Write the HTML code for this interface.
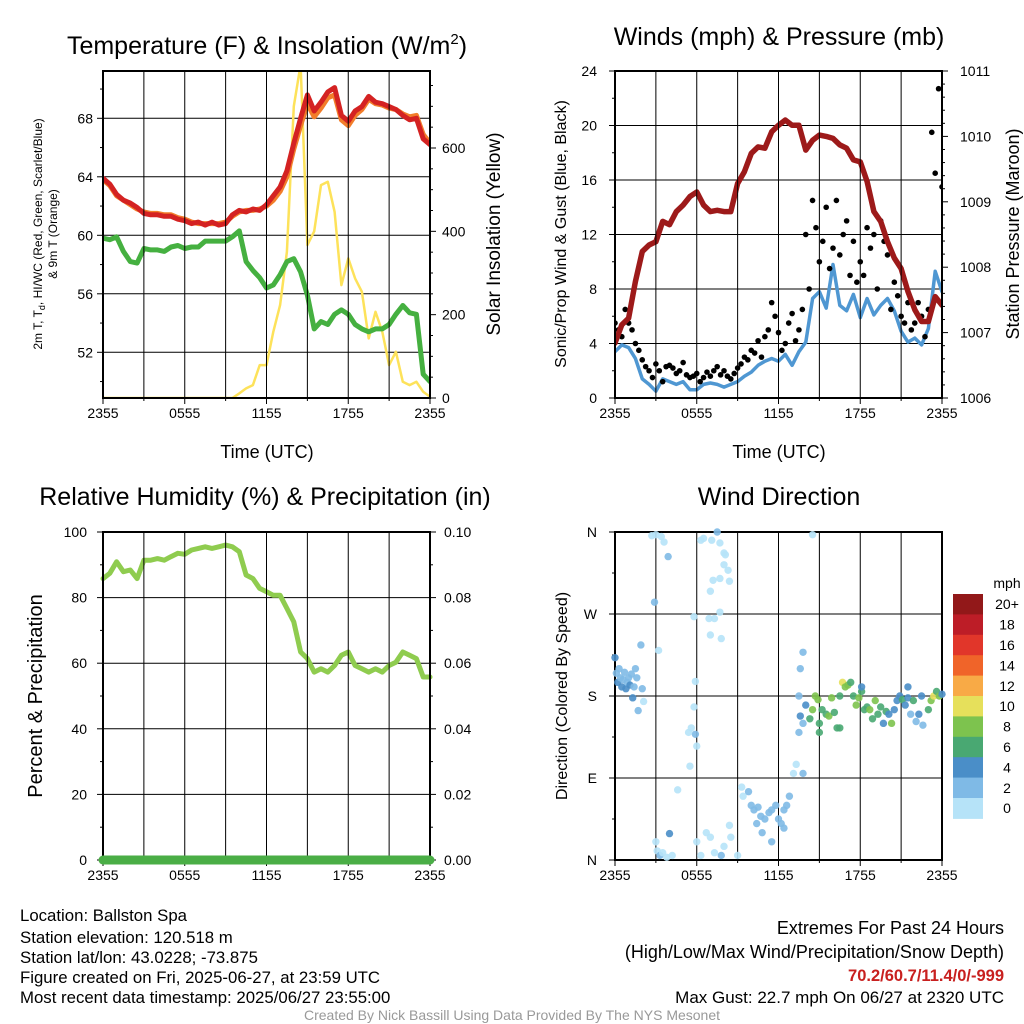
<!DOCTYPE html>
<html><head><meta charset="utf-8">
<style>
html,body{margin:0;padding:0;background:#fff;}
svg{display:block;font-family:"Liberation Sans",sans-serif;}
</style></head>
<body>
<svg id="fig" width="1024" height="1024" viewBox="0 0 1024 1024" xmlns="http://www.w3.org/2000/svg">
<rect width="1024" height="1024" fill="#fff"/>
<g id="g1"></g>
<g id="g2"></g>
<g id="g3"></g>
<g id="g4"></g>
<g id="ginfo">
<text x="20" y="921" font-size="16.8">Location: Ballston Spa</text>
<text x="20" y="943" font-size="16.8">Station elevation: 120.518 m</text>
<text x="20" y="963" font-size="16.8">Station lat/lon: 43.0228; -73.875</text>
<text x="20" y="983" font-size="16.8">Figure created on Fri, 2025-06-27, at 23:59 UTC</text>
<text x="20" y="1003" font-size="16.8">Most recent data timestamp: 2025/06/27 23:55:00</text>
<text x="1004" y="934" font-size="18" text-anchor="end">Extremes For Past 24 Hours</text>
<text x="1004" y="958" font-size="18" text-anchor="end">(High/Low/Max Wind/Precipitation/Snow Depth)</text>
<text x="1004" y="981" font-size="16.5" font-weight="bold" fill="#c8201f" text-anchor="end">70.2/60.7/11.4/0/-999</text>
<text x="1004" y="1003" font-size="17" text-anchor="end">Max Gust: 22.7 mph On 06/27 at 2320 UTC</text>
<text x="512" y="1020" font-size="14" fill="#999" text-anchor="middle">Created By Nick Bassill Using Data Provided By The NYS Mesonet</text>
</g>
</svg>
<script>
// ---------- data ----------
const xTickLabels = ["2355","0555","1155","1755","2355"];
// half-hourly values, hours 0..24
const temp2m = [63.9,63.5,62.8,62.4,62.2,61.9,61.5,61.4,61.4,61.3,61.3,61.1,61.0,60.8,60.9,60.7,60.9,60.7,60.8,61.4,61.7,61.6,61.8,61.7,62.1,62.7,63.3,64.4,66.3,68.0,69.6,68.5,69.1,69.8,70.1,68.2,67.8,68.5,68.8,69.5,69.1,69.0,68.8,68.6,68.2,67.9,68.0,66.6,66.2];
const temp9m = [63.8,63.4,62.7,62.4,62.1,61.8,61.6,61.5,61.5,61.4,61.4,61.2,61.1,60.9,60.8,60.8,60.8,60.8,60.9,61.3,61.6,61.7,61.7,61.8,62.0,62.4,63.0,64.0,65.9,67.5,69.0,68.1,68.7,69.4,69.6,67.9,67.5,68.2,68.6,69.3,69.0,68.9,68.7,68.6,68.3,68.1,68.2,66.9,66.3];
const dewpt = [59.8,59.7,59.9,58.9,58.2,58.1,59.1,59.0,59.0,58.9,59.2,59.3,59.1,59.2,59.2,59.6,59.6,59.6,59.6,59.9,60.3,58.2,57.6,57.1,56.4,56.6,57.3,58.2,58.4,57.5,55.9,53.6,54.1,53.9,54.6,54.9,54.6,53.9,53.6,53.4,53.6,53.6,53.9,54.6,55.2,54.7,54.6,50.5,50.0];
const solar = [0,0,0,0,0,0,0,0,0,0,0,0,0,0,0,0,0,0,0,0,11,23,31,79,79,159,223,351,700,800,367,400,511,519,447,271,335,287,255,143,207,159,79,111,39,31,39,15,3];
const tempTicks = [52,56,60,64,68];
const solarTicks = [0,200,400,600];

const sonicWind = [3.4,3.9,3.7,2.9,1.4,1.0,0.5,1.4,1.2,1.0,1.2,0.6,0.6,1.0,1.1,1.0,0.8,1.0,1.2,1.6,1.9,2.4,2.7,2.9,2.7,3.2,2.4,3.4,4.1,7.3,7.8,6.6,9.8,6.8,6.4,7.6,5.9,7.3,6.1,6.8,7.3,6.4,4.9,4.1,4.4,3.9,5.1,9.3,7.8];
const pressure = [1006.84,1007.12,1007.22,1007.78,1008.24,1008.34,1008.39,1008.70,1008.65,1008.85,1008.95,1009.08,1009.15,1008.95,1008.85,1008.87,1008.85,1008.85,1009.28,1009.46,1009.74,1009.84,1009.82,1010.07,1010.17,1010.25,1010.17,1010.17,1009.79,1009.94,1010.02,1010.00,1009.97,1009.87,1009.82,1009.64,1009.61,1009.31,1008.85,1008.70,1008.39,1008.14,1007.98,1007.63,1007.35,1007.17,1007.17,1007.55,1007.42];
// quarter-hourly gusts, hours 0..24
const gusts = [5.5,5.0,4.5,6.5,5.5,5.0,4.0,3.5, 2.8,2.3,2.0,1.5,2.5,2.0,1.2,2.3, 2.4,2.2,1.8,2.0,2.6,1.7,1.5,1.6, 1.8,1.2,1.5,1.9,1.6,2.0,2.3,1.7, 2.0,1.6,1.4,1.8,2.2,2.5,3.0,2.8, 3.5,3.3,4.2,3.0,4.5,5.0,7.0,6.0, 4.8,3.5,4.0,5.5,6.2,4.2,5.0,6.5, 12.0,8.0,14.5,12.5,10.0,11.5,14.0,9.5, 11.0,14.5,10.5,12.0,13.0,9.0,11.5,8.5, 10.0,9.0,12.5,11.0,12.0,8.0,13.0,11.5, 10.5,6.5,8.5,7.5,6.0,5.5,7.0,5.0, 5.5,7.0,6.0,4.5,6.5,19.5,16.5,22.7,15.5];
const windTicks = [0,4,8,12,16,20,24];
const presTicks = [1006,1007,1008,1009,1010,1011];

const rh = [85.8,87.4,90.9,87.9,88.4,85.8,91.4,91.4,91.9,91.4,92.5,93.5,93.2,94.5,95.0,95.5,95.0,95.5,96.0,95.5,94.0,86.9,85.8,82.8,81.8,80.7,80.7,76.7,72.6,63.4,61.4,57.3,58.3,57.3,59.3,62.4,63.4,59.3,58.3,57.3,58.3,57.3,59.3,60.3,63.4,62.4,61.4,55.8,55.8];
const precip = [0,0,0,0,0,0,0,0,0,0,0,0,0,0,0,0,0,0,0,0,0,0,0,0,0,0,0,0,0,0,0,0,0,0,0,0,0,0,0,0,0,0,0,0,0,0,0,0,0];
const rhTicks = [0,20,40,60,80,100];
const precipTicks = ["0.00","0.02","0.04","0.06","0.08","0.10"];

const dirTimes = [0.0,0.1,0.2,0.3,0.4,0.5,0.6,0.7,0.8,0.9,1.0,1.1,1.2,1.3,1.4,1.5,1.6,1.7,1.9,2.0,2.1, 2.7,2.9,3.0,3.4,3.6,3.9,3.2, 3.0,3.1,3.3,3.5,3.8,4.0,4.2,4.6, 5.8,5.6,5.9,5.4,6.0,5.5,5.9,5.8, 6.3,6.5,7.1,7.5,7.7,8.0,8.1,8.0,7.2,7.0,7.7,8.4,8.3, 6.9,7.3,7.7,7.8,7.0, 6.0,6.3,6.7,7.0,7.3,7.8,8.0,8.5,9.0,8.4, 9.3,9.4,9.8,10.0,10.2,10.5,10.7,11.0,11.3,11.5,11.8,12.0,12.2,12.4,12.6,12.8,10.8,11.5,12.4,10.4, 13.1,13.3,13.8,13.5,13.8,13.5,13.6,13.8,14.5, 13.6,14.0,14.3,14.5,14.7,14.9,15.0,15.2,15.5,15.7,15.9,16.1,16.3,16.5,16.7,16.9,17.1,17.3,17.5,17.7,17.9,18.1,18.3,18.5,18.7,18.9,19.1,19.3,19.5,19.7,19.9,20.1,20.3,20.5,20.7,20.9,21.1,21.3,21.5,21.7,21.9,22.1,22.3,22.6,23.0,23.2,23.4,23.6,23.8,24.0,22.5,21.5,18.1,16.5,15.0];
const dirValues = [222,205,195,210,200,190,198,206,188,195,200,192,204,178,190,210,200,164,236,188,174, 356,283,357,355,349,333,230, 20,10,5,8,3,29,5,77, 168,145,138,140,125,103,196,267, 351,353,351,360,348,337,335,324,307,295,309,306,318, 265,265,272,243,247, 20,5,30,25,8,5,15,25,5,38, 80,70,75,60,55,58,48,45,52,55,60,45,40,55,60,70,30,20,35,40, 95,105,95,140,150,180,210,228,357, 158,170,155,165,180,176,150,165,160,158,178,162,145,180,195,190,192,195,180,170,178,185,165,168,165,155,175,160,168,150,163,160,150,165,175,180,176,170,178,160,175,152,160,148,165,175,180,185,180,182,180,190,190,145,140];
const dirSpeeds = [4,3,4,2,3,4,3,3,4,2,3,4,3,4,3,2,3,2,2,2,1, 1,3,0,1,0,3,1, 1,0,2,1,0,4,1,0, 0,0,2,0,0,0,0,0, 0,0,0,2,0,0,0,0,0,0,0,0,0, 0,0,0,0,0, 0,0,0,0,0,3,0,0,0,0, 0,0,3,2,3,2,3,2,3,2,3,2,3,3,2,3,3,3,2,2, 0,0,2,3,3,2,2,2,0, 5,4,6,8,8,8,6,7,6,8,8,7,6,7,10,8,9,6,6,8,8,7,6,7,8,6,8,6,7,4,6,5,8,4,4,4,6,4,4,3,6,3,4,3,6,8,10,6,8,5,4,4,4,7,6];
const speedBins = ["0","2","4","6","8","10","12","14","16","18","20+"];
const speedColors = ["#b6e3f8","#7fbae6","#4a8ec8","#49a872","#7dc34e","#e6e05b","#f8aa46","#f06429","#e1362a","#bd1d27","#921819"];
const dirTicks = ["N","E","S","W","N"];

// ---------- helpers ----------
const NS="http://www.w3.org/2000/svg";
function mk(parent,tag,attrs){const e=document.createElementNS(NS,tag);for(const k in attrs)e.setAttribute(k,attrs[k]);parent.appendChild(e);return e;}
function txt(parent,x,y,s,size,anchor,rot){const e=mk(parent,"text",{x:x,y:y,"font-size":size,"text-anchor":anchor||"middle"});if(rot)e.setAttribute("transform","rotate("+rot+" "+x+" "+y+")");e.textContent=s;return e;}
function lin(parent,x1,y1,x2,y2,c,w){return mk(parent,"line",{x1:x1,y1:y1,x2:x2,y2:y2,stroke:c,"stroke-width":w});}
function scale(d0,d1,r0,r1){return v=>r0+(v-d0)/(d1-d0)*(r1-r0);}

function frame(g,L,R,T,B,name){
  for(let i=0;i<=8;i++){const x=L+(R-L)*i/8;const e=lin(g,x,T,x,B,"#000",1);
    
    
    if(i%2===0){const t=lin(g,x,B,x,B+6,"#000",1);}
    else{lin(g,x,B,x,B+3,"#000",1);}
  }
  xTickLabels.forEach((s,i)=>{const t=txt(g,L+(R-L)*i/4,B+20,s,14);
    
    });
  const r=mk(g,"rect",{x:L,y:T,width:R-L,height:B-T,fill:"none",stroke:"#000","stroke-width":2});
  
  
}
function hgrid(g,L,R,y){const e=lin(g,L,y,R,y,"#000",1);}
function ytickL(g,L,y,major){lin(g,L-(major?6:3),y,L,y,"#000",1);}
function ytickR(g,R,y,major){lin(g,R,y,R+(major?6:3),y,"#000",1);}
function poly(g,xs,ys,color,w,name){
  const pts=xs.map((x,i)=>x.toFixed(1)+","+ys[i].toFixed(1)).join(" ");
  const p=mk(g,"polyline",{points:pts,fill:"none",stroke:color,"stroke-width":w,"stroke-linejoin":"round","stroke-linecap":"round"});
  
  
  return p;
}
const halfHours = temp2m.map((_,i)=>i*0.5);

// ---------- Panel 1 ----------
(function(){
  const g=document.getElementById("g1");const L=103,R=430,T=71,B=398;
  const xs=scale(0,24,L,R), yT=scale(68,52,118.3,352.3), yS=scale(0,600,B,148);
  const clip=mk(g,"clipPath",{id:"c1"});mk(clip,"rect",{x:L,y:T,width:R-L,height:B-T});
  tempTicks.forEach(v=>{hgrid(g,L,R,yT(v));});
  for(let v=50;v<=70;v+=2){ytickL(g,L,yT(v),v%4===0);}
  tempTicks.forEach(v=>{const t=txt(g,L-10,yT(v)+5,String(v),14,"end");});
  for(let v=0;v<=750;v+=50){ytickR(g,R,yS(v),v%200===0);}
  solarTicks.forEach(v=>{const t=txt(g,R+12,yS(v)+5,String(v),14,"start");});
  const d=mk(g,"g",{"clip-path":"url(#c1)"});
  poly(d,halfHours.map(xs),solar.map(yS),"#fde25a",2.5,"solar-line");
  poly(d,halfHours.map(xs),dewpt.map(yT),"#45b040",5,"dewpoint-line");
  poly(d,halfHours.map(xs),temp9m.map(yT),"#f27d2a",5,"temp-9m-line");
  poly(d,halfHours.map(xs),temp2m.map(yT),"#d42222",5,"temp-2m-line");
  frame(g,L,R,T,B,"temp");
  const t1=mk(g,"text",{x:267,y:54,"font-size":25,"text-anchor":"middle"});t1.innerHTML='Temperature (F) &amp; Insolation (W/m<tspan dy="-10" font-size="15">2</tspan><tspan dy="10">)</tspan>';
  
  const a=txt(g,267,458,"Time (UTC)",18);
  const y1=mk(g,"text",{x:42,y:234,"font-size":12,"text-anchor":"middle",transform:"rotate(-90 42 234)"});
  y1.innerHTML='2m T, T<tspan dy="3" font-size="9">d</tspan><tspan dy="-3">, HI/WC (Red, Green, Scarlet/Blue)</tspan>';
  
  const y2=txt(g,57,234,"& 9m T (Orange)",12,"middle",-90);
  const y3=txt(g,500,234,"Solar Insolation (Yellow)",19,"middle",-90);
})();

// ---------- Panel 2 ----------
(function(){
  const g=document.getElementById("g2");const L=615,R=942,T=71,B=398;
  const xs=scale(0,24,L,R), yW=scale(0,24,B,T), yP=scale(1006,1011,B,T);
  const clip=mk(g,"clipPath",{id:"c2"});mk(clip,"rect",{x:L,y:T,width:R-L,height:B-T});
  windTicks.forEach(v=>{hgrid(g,L,R,yW(v));});
  for(let v=0;v<=24;v+=2){ytickL(g,L,yW(v),v%4===0);}
  windTicks.forEach(v=>{const t=txt(g,L-18,yW(v)+5,String(v),14,"end");});
  for(let v=1006;v<=1011.001;v+=0.2){ytickR(g,R,yP(v),Math.abs(v-Math.round(v))<0.01);}
  presTicks.forEach(v=>{const t=txt(g,R+18,yP(v)+5,String(v),14,"start");});
  const d=mk(g,"g",{"clip-path":"url(#c2)"});
  poly(d,halfHours.map(xs),sonicWind.map(yW),"#4f97d2",3.5,"sonic-wind-line");
  gusts.forEach((v,i)=>{const c=mk(d,"circle",{cx:xs(i*0.25),cy:yW(v),r:2.8,fill:"#000"});
    
    });
  poly(d,halfHours.map(xs),pressure.map(yP),"#9d1a1a",5.5,"pressure-line");
  frame(g,L,R,T,B,"wind");
  const t1=txt(g,779,45,"Winds (mph) & Pressure (mb)",25);
  const a=txt(g,779,458,"Time (UTC)",18);
  const y1=txt(g,566,234,"Sonic/Prop Wind & Gust (Blue, Black)",16,"middle",-90);
  const y2=txt(g,1019,234,"Station Pressure (Maroon)",18,"middle",-90);
})();

// ---------- Panel 3 ----------
(function(){
  const g=document.getElementById("g3");const L=103,R=430,T=532,B=860;
  const xs=scale(0,24,L,R), yR=scale(0,100,B,T), yPr=scale(0,0.1,B,T);
  rhTicks.forEach(v=>{hgrid(g,L,R,yR(v));});
  for(let v=0;v<=100;v+=10){ytickL(g,L,yR(v),v%20===0);ytickR(g,R,yR(v),v%20===0);}
  rhTicks.forEach(v=>{const t=txt(g,L-16,yR(v)+5,String(v),14,"end");});
  precipTicks.forEach((s,i)=>{const t=txt(g,R+14,yR(i*20)+5,s,14,"start");});
  poly(g,halfHours.map(xs),rh.map(yR),"#8fcc4f",5,"rh-line");
  frame(g,L,R,T,B,"rh");
  poly(g,halfHours.map(xs),precip.map(yPr),"#4aae46",9,"precip-line");
  const t1=txt(g,265,505,"Relative Humidity (%) & Precipitation (in)",25);
  const y1=txt(g,42,696,"Percent & Precipitation",20,"middle",-90);
})();

// ---------- Panel 4 ----------
(function(){
  const g=document.getElementById("g4");const L=615,R=942,T=532,B=860;
  const xs=scale(0,24,L,R), yD=scale(0,360,B,T);
  dirTicks.forEach((s,i)=>{hgrid(g,L,R,yD(i*90));});
  for(let v=0;v<=360;v+=45){ytickL(g,L,yD(v),v%90===0);}
  dirTicks.forEach((s,i)=>{const t=txt(g,L-18,yD(i*90)+5,s,14,"end");});
  frame(g,L,R,T,B,"dir");
  const d=mk(g,"g",{});
  dirTimes.forEach((t,i)=>{
    const bin=Math.min(10,Math.floor(dirSpeeds[i]/2));
    const c=mk(d,"circle",{cx:xs(t),cy:yD(dirValues[i]),r:3.7,fill:speedColors[bin],"fill-opacity":0.9});
    
    
  });
  // colorbar
  const top=594,h=20.4;
  const mphT=txt(g,1007,588,"mph",14);
  for(let i=0;i<11;i++){
    const k=10-i;
    const r=mk(g,"rect",{x:953,y:top+i*h,width:30,height:h+0.5,fill:speedColors[k]});
    
    
    const t=txt(g,1007,top+i*h+h/2+5,speedBins[k],14);
    
    
  }
  const t1=txt(g,779,505,"Wind Direction",25);
  const y1=txt(g,567,696,"Direction (Colored By Speed)",16,"middle",-90);
})();
</script>
</body></html>
